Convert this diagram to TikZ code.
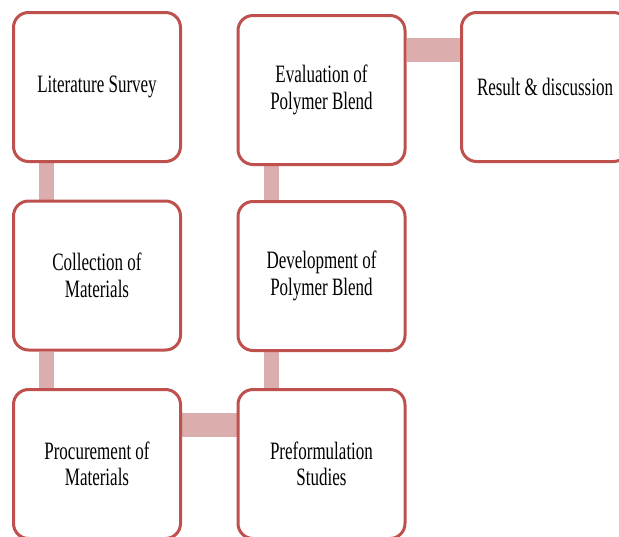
\documentclass[tikz,border=0pt]{standalone}
\usepackage{fontspec}
\setmainfont{Liberation Serif}[FakeStretch=0.68]
\usetikzlibrary{backgrounds}
\definecolor{boxred}{RGB}{190,80,77}
\definecolor{connpink}{RGB}{220,173,173}
\begin{document}
\begin{tikzpicture}[x=1pt,y=1pt,
  stepbox/.style={draw=boxred, line width=3pt, fill=white, rounded corners=15pt,
    minimum width=167pt, minimum height=149pt, align=center, inner sep=0pt,
    font=\fontsize{25}{26.5}\selectfont, text=black},
  vconn/.style={draw=connpink, line width=15pt},
  hconn/.style={draw=connpink, line width=24pt}]
\useasboundingbox (0,0) rectangle (619,-536);
\clip (0,0) rectangle (619,-536);
\node[stepbox] (lit) at (97,-87) {Literature Survey};
\node[stepbox] (coll) at (97,-275.5) {Collection of\\Materials};
\node[stepbox] (proc) at (97,-464) {Procurement of\\Materials};
\node[stepbox] (eval) at (321.5,-90) {Evaluation of\\Polymer Blend};
\node[stepbox] (dev) at (321.5,-276) {Development of\\Polymer Blend};
\node[stepbox] (pref) at (321.5,-464) {Preformulation\\Studies};
\node[stepbox] (result) at (545,-87) {Result \& discussion};
\begin{scope}[on background layer]
  \draw[vconn] ([xshift=-50.5pt]lit.south) -- ([xshift=-50.5pt]coll.north);
  \draw[vconn] ([xshift=-50.5pt]coll.south) -- ([xshift=-50.5pt]proc.north);
  \draw[vconn] ([xshift=-50.5pt]pref.north) -- ([xshift=-50.5pt]dev.south);
  \draw[vconn] ([xshift=-50.5pt]dev.north) -- ([xshift=-50.5pt]eval.south);
  \coordinate (p1) at ([yshift=39pt]proc.east);
  \draw[hconn] (p1) -- (p1 -| pref.west);
  \coordinate (e1) at ([yshift=40pt]eval.east);
  \draw[hconn] (e1) -- (e1 -| result.west);
\end{scope}
\end{tikzpicture}
\end{document}
